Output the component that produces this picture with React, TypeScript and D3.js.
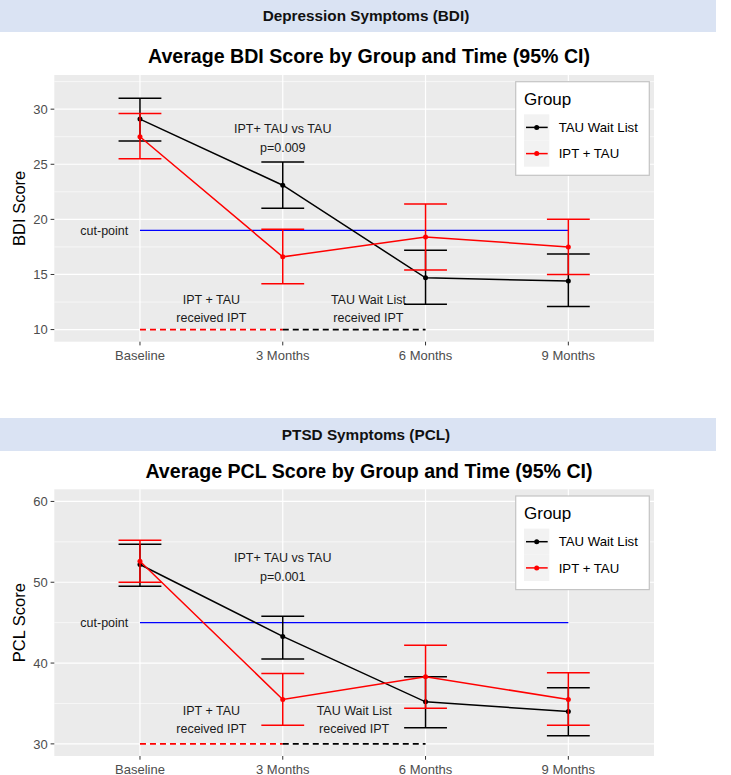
import React from "react";
import * as d3 from "d3";

// ---------- data ----------
const timePoints = ["Baseline", "3 Months", "6 Months", "9 Months"];
const groupNames = ["TAU Wait List", "IPT + TAU"];
const groupColors = ["#000000", "#ff0000"];

const bdiWaitMean = [29.1, 23.1, 14.7, 14.4];
const bdiWaitLower = [27.1, 21.0, 12.3, 12.1];
const bdiWaitUpper = [31.0, 25.2, 17.2, 16.85];
const bdiIptMean = [27.5, 16.6, 18.4, 17.5];
const bdiIptLower = [25.5, 14.15, 15.4, 15.0];
const bdiIptUpper = [29.6, 19.1, 21.4, 20.0];

const pclWaitMean = [52.2, 43.3, 35.2, 34.0];
const pclWaitLower = [49.5, 40.5, 32.0, 31.0];
const pclWaitUpper = [54.7, 45.8, 38.3, 36.95];
const pclIptMean = [52.6, 35.5, 38.3, 35.5];
const pclIptLower = [50.0, 32.3, 34.4, 32.3];
const pclIptUpper = [55.2, 38.7, 42.2, 38.8];

const bdiYRange = [10, 32];
const bdiYBreaks = [10, 15, 20, 25, 30];
const bdiYMinor = [12.5, 17.5, 22.5, 27.5, 32.5];
const pclYRange = [30, 60];
const pclYBreaks = [30, 40, 50, 60];
const pclYMinor = [35, 45, 55];

const bdiCutPoint = 19;
const pclCutPoint = 45;
const bdiDashLevel = 10;
const pclDashLevel = 30;

// annotation anchors in data units [x index, y value]
const bdiPvalAnchor = [1, 27.4];
const bdiIptAnchor = [0.5, 11.9];
const bdiWaitAnchor = [1.6, 11.9];
const pclPvalAnchor = [1, 51.9];
const pclIptAnchor = [0.5, 33];
const pclWaitAnchor = [1.5, 33];

const FONT = "'Liberation Sans', Arial, Helvetica, sans-serif";

// ---------- layout ----------
const W = 731;
const H = 775;
const PL = 54.3;
const PR = 654;
const PT = 75;
const PB = 341.7;

const xScale = d3.scaleLinear().domain([-0.6, 3.6]).range([PL, PR]);

function expand(r: number[]) {
  const d = (r[1] - r[0]) * 0.05;
  return [r[0] - d, r[1] + d];
}

type SectionProps = {
  off: number;
  bandTop: number;
  header: string;
  title: string;
  yLabel: string;
  yRange: number[];
  yBreaks: number[];
  yMinor: number[];
  waitMean: number[];
  waitLower: number[];
  waitUpper: number[];
  iptMean: number[];
  iptLower: number[];
  iptUpper: number[];
  cut: number;
  dash: number;
  pval: string;
  pvalAnchor: number[];
  iptAnchor: number[];
  waitAnchor: number[];
};

function MultiText({ x, y, lines, size, gap }: { x: number; y: number; lines: string[]; size: number; gap: number }) {
  const start = y - ((lines.length - 1) * gap) / 2;
  return (
    <text fontFamily={FONT} fontSize={size} fill="#1a1a1a" textAnchor="middle">
      {lines.map((l, i) => (
        <tspan key={i} x={x} y={start + i * gap} dy="0.36em">
          {l}
        </tspan>
      ))}
    </text>
  );
}

function Section(p: SectionProps) {
  const y = d3.scaleLinear().domain(expand(p.yRange)).range([PB, PT]);
  const line = d3
    .line<number>()
    .x((_, i) => xScale(i))
    .y((d) => y(d));
  const series = [
    { mean: p.waitMean, lo: p.waitLower, hi: p.waitUpper, color: groupColors[0] },
    { mean: p.iptMean, lo: p.iptLower, hi: p.iptUpper, color: groupColors[1] },
  ];
  const capHalf = xScale(0.15) - xScale(0);
  const idx = timePoints.map((_, i) => i);
  return (
    <g transform={`translate(0,${p.off})`}>
      <rect x={0} y={p.bandTop} width={716} height={33} fill="#dae3f3" />
      <text
        x={366}
        y={p.bandTop + 22}
        textAnchor="middle"
        fontFamily={FONT}
        fontWeight="bold"
        fontSize={15.3}
        fill="#111"
      >
        {p.header}
      </text>
      <text x={369} y={63.3} textAnchor="middle" fontFamily={FONT} fontWeight="bold" fontSize={19.6} fill="#000">
        {p.title}
      </text>
      {/* panel */}
      <rect x={PL} y={PT} width={PR - PL} height={PB - PT} fill="#ebebeb" />
      {p.yMinor
        .filter((v) => y(v) >= PT && y(v) <= PB)
        .map((v) => (
          <line key={"mi" + v} x1={PL} x2={PR} y1={y(v)} y2={y(v)} stroke="#fff" strokeWidth={0.6} />
        ))}
      {p.yBreaks.map((v) => (
        <line key={"ma" + v} x1={PL} x2={PR} y1={y(v)} y2={y(v)} stroke="#fff" strokeWidth={1.2} />
      ))}
      {idx.map((i) => (
        <line key={"vx" + i} x1={xScale(i)} x2={xScale(i)} y1={PT} y2={PB} stroke="#fff" strokeWidth={1.2} />
      ))}
      {/* axes */}
      {p.yBreaks.map((v) => (
        <g key={"yt" + v}>
          <line x1={PL - 3.7} x2={PL} y1={y(v)} y2={y(v)} stroke="#333" strokeWidth={1} />
          <text x={PL - 6.5} y={y(v)} dy="0.36em" textAnchor="end" fontFamily={FONT} fontSize={13} fill="#4d4d4d">
            {v}
          </text>
        </g>
      ))}
      {timePoints.map((t, i) => (
        <g key={"xt" + t}>
          <line x1={xScale(i)} x2={xScale(i)} y1={PB} y2={PB + 3.7} stroke="#333" strokeWidth={1} />
          <text x={xScale(i)} y={PB + 18.3} textAnchor="middle" fontFamily={FONT} fontSize={13} fill="#4d4d4d">
            {t}
          </text>
        </g>
      ))}
      <text
        transform={`translate(25,${(PT + PB) / 2}) rotate(-90)`}
        textAnchor="middle"
        fontFamily={FONT}
        fontSize={16.5}
        fill="#000"
      >
        {p.yLabel}
      </text>
      {/* reference lines */}
      <line
        x1={xScale(0)}
        x2={xScale(1)}
        y1={y(p.dash)}
        y2={y(p.dash)}
        stroke={groupColors[1]}
        strokeWidth={1.6}
        strokeDasharray="6,4"
      />
      <line
        x1={xScale(1)}
        x2={xScale(2)}
        y1={y(p.dash)}
        y2={y(p.dash)}
        stroke={groupColors[0]}
        strokeWidth={1.6}
        strokeDasharray="6,4"
      />
      <line x1={xScale(0)} x2={xScale(3)} y1={y(p.cut)} y2={y(p.cut)} stroke="#0000ff" strokeWidth={1.3} />
      {/* series */}
      {series.map((s, k) => (
        <g key={"s" + k}>
          <path d={line(s.mean) || ""} fill="none" stroke={s.color} strokeWidth={1.5} />
          {idx.map((i) => (
            <g key={"eb" + i} stroke={s.color} strokeWidth={1.5}>
              <line x1={xScale(i)} x2={xScale(i)} y1={y(s.lo[i])} y2={y(s.hi[i])} />
              <line x1={xScale(i) - capHalf} x2={xScale(i) + capHalf} y1={y(s.lo[i])} y2={y(s.lo[i])} />
              <line x1={xScale(i) - capHalf} x2={xScale(i) + capHalf} y1={y(s.hi[i])} y2={y(s.hi[i])} />
            </g>
          ))}
          {idx.map((i) => (
            <circle key={"pt" + i} cx={xScale(i)} cy={y(s.mean[i])} r={2.5} fill={s.color} />
          ))}
        </g>
      ))}
      {/* annotations */}
      <text x={xScale(-0.25)} y={y(p.cut)} dy="0.36em" textAnchor="middle" fontFamily={FONT} fontSize={12.5} fill="#1a1a1a">
        cut-point
      </text>
      <MultiText x={xScale(p.pvalAnchor[0])} y={y(p.pvalAnchor[1])} lines={["IPT+ TAU vs TAU", p.pval]} size={12.5} gap={19} />
      <MultiText x={xScale(p.iptAnchor[0])} y={y(p.iptAnchor[1])} lines={["IPT + TAU", "received IPT"]} size={12.5} gap={18.5} />
      <MultiText x={xScale(p.waitAnchor[0])} y={y(p.waitAnchor[1])} lines={["TAU Wait List", "received IPT"]} size={12.5} gap={18.5} />
      {/* legend */}
      <rect x={515.7} y={81.7} width={133.6} height={93.6} fill="#fff" stroke="#c4c4c4" strokeWidth={1.2} />
      <text x={524} y={105} fontFamily={FONT} fontSize={17} fill="#000">
        Group
      </text>
      {groupNames.map((g, k) => {
        const ky = 114.3 + k * 26.2;
        return (
          <g key={"lg" + k}>
            <rect x={524} y={ky} width={25.3} height={26.2} fill="#f2f2f2" />
            <line x1={526} x2={547.7} y1={ky + 13.1} y2={ky + 13.1} stroke={groupColors[k]} strokeWidth={1.5} />
            <circle cx={536.7} cy={ky + 13.1} r={2.5} fill={groupColors[k]} />
            <text x={558.7} y={ky + 13.1} dy="0.36em" fontFamily={FONT} fontSize={13.2} fill="#000">
              {g}
            </text>
          </g>
        );
      })}
    </g>
  );
}

export default function App() {
  return (
    <svg width={W} height={H} style={{ display: "block", position: "absolute", left: 0, top: 0 }}>
      <rect x={0} y={0} width={W} height={H} fill="#fff" />
      <Section
        off={0}
        bandTop={-1}
        header="Depression Symptoms (BDI)"
        title="Average BDI Score by Group and Time (95% CI)"
        yLabel="BDI Score"
        yRange={bdiYRange}
        yBreaks={bdiYBreaks}
        yMinor={bdiYMinor}
        waitMean={bdiWaitMean}
        waitLower={bdiWaitLower}
        waitUpper={bdiWaitUpper}
        iptMean={bdiIptMean}
        iptLower={bdiIptLower}
        iptUpper={bdiIptUpper}
        cut={bdiCutPoint}
        dash={bdiDashLevel}
        pval="p=0.009"
        pvalAnchor={bdiPvalAnchor}
        iptAnchor={bdiIptAnchor}
        waitAnchor={bdiWaitAnchor}
      />
      <Section
        off={414.3}
        bandTop={3.7}
        header="PTSD Symptoms (PCL)"
        title="Average PCL Score by Group and Time (95% CI)"
        yLabel="PCL Score"
        yRange={pclYRange}
        yBreaks={pclYBreaks}
        yMinor={pclYMinor}
        waitMean={pclWaitMean}
        waitLower={pclWaitLower}
        waitUpper={pclWaitUpper}
        iptMean={pclIptMean}
        iptLower={pclIptLower}
        iptUpper={pclIptUpper}
        cut={pclCutPoint}
        dash={pclDashLevel}
        pval="p=0.001"
        pvalAnchor={pclPvalAnchor}
        iptAnchor={pclIptAnchor}
        waitAnchor={pclWaitAnchor}
      />
    </svg>
  );
}
